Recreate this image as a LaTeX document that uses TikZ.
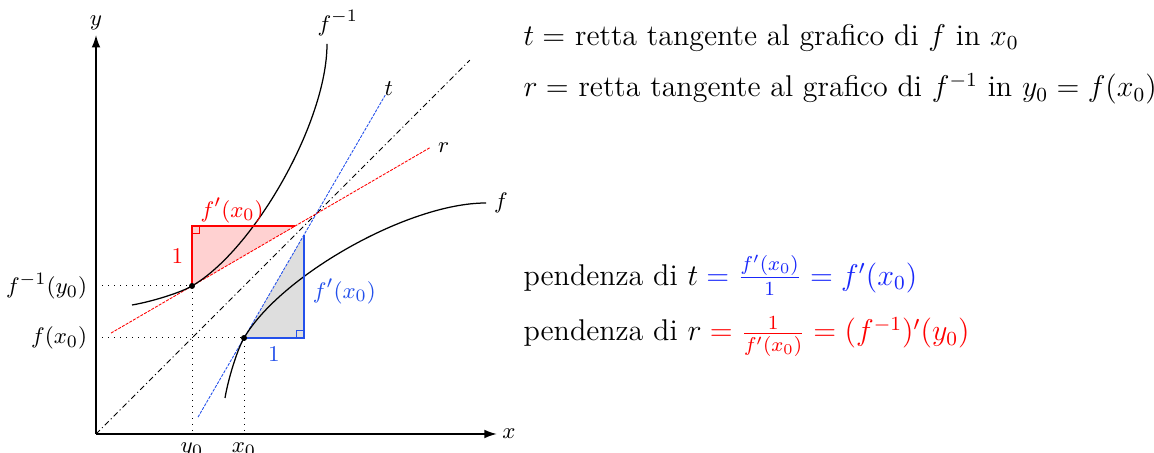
\documentclass[tikz,border=0pt]{standalone}
\usepackage{amsmath}
\usetikzlibrary{arrows.meta}
\definecolor{pblue}{RGB}{35,80,235}
\definecolor{tblue}{RGB}{25,40,250}
\begin{document}
\begin{tikzpicture}[x=24pt,y=24pt,
 axis/.style={line width=0.6pt,-{Latex[length=5pt,width=3.5pt]}},
 curve/.style={line width=0.5pt},
 tline/.style={pblue, line width=0.35pt, dash pattern=on 1.2pt off 0.5pt},
 rline/.style={red, line width=0.35pt, dash pattern=on 1.2pt off 0.5pt},
 diag/.style={line width=0.4pt, dash pattern=on 2.2pt off 1.2pt on 0.4pt off 1.2pt},
 guide/.style={line width=0.4pt, dotted},
 tri/.style={line width=0.9pt},
 rmark/.style={line width=0.4pt},
 dot/.style={circle, fill, inner sep=0pt, minimum size=2.4pt},
 plbl/.style={font=\fontsize{9.5}{11}\selectfont},
 rtext/.style={anchor=base west, inner sep=0pt, font=\large},
 ]
\useasboundingbox (-1.6,-0.3167) rectangle (17.633,7.2333);
\coordinate (O) at (0,0);
\coordinate (P) at (2.467,1.6);
\coordinate (Q) at (1.6,2.467);
\coordinate (Px) at (2.467,0);
\coordinate (Py) at (0,1.6);
\coordinate (Qx) at (1.6,0);
\coordinate (Qy) at (0,2.467);
\coordinate (R1) at (1.6,3.467);
\coordinate (R2) at (3.32,3.467);
\coordinate (B1) at (3.467,1.6);
\coordinate (B2) at (3.467,3.32);
% fills
\fill[red!18] (Q) -- (R1) -- (R2) -- cycle;
\fill[black!13] (P) -- (B1) -- (B2) -- cycle;
% guides
\draw[guide] (Py) -- (P) -- (Px);
\draw[guide] (Qy) -- (Q) -- (Qx);
% axes
\draw[axis] (O) -- (6.68,0) coordinate (xe);
\draw[axis] (O) -- (0,6.65) coordinate (ye);
\node[right, inner sep=2pt] (xl) at (xe) {\small $x$};
\node[above, inner sep=2pt] (yl) at (ye) {\small $y$};
% diagonal
\draw[diag] (O) -- (6.23,6.23) coordinate (de);
% tangent lines
\coordinate (t1) at (1.7,0.281);
\coordinate (t2) at (4.82,5.647);
\coordinate (r1) at (0.25,1.682);
\coordinate (r2) at (5.567,4.773);
\draw[tline] (t1) -- (t2);
\draw[rline] (r1) -- (r2);
\node[right, inner sep=1pt] (tl) at (4.76,5.76) {\small $t$};
\node[right, inner sep=1pt] (rl) at (5.65,4.78) {\small $r$};
% curves
\coordinate (fa) at (2.15,0.6);
\coordinate (fb) at (6.5,3.85);
\coordinate (ga) at (0.6,2.15);
\coordinate (gb) at (3.85,6.5);
\draw[curve] (fa) .. controls (2.2,0.9) and (2.347,1.394) .. (P)
  .. controls (3.067,2.632) and (5.2,3.85) .. (fb);
\draw[curve] (ga) .. controls (0.9,2.2) and (1.394,2.347) .. (Q)
  .. controls (2.632,3.067) and (3.85,5.2) .. (gb);
\node[right, inner sep=3pt, plbl] (fl) at (fb) {$f$};
\node[plbl] (gl) at (4.03,6.85) {$f^{-1}$};
% triangles
\draw[tri, red] (Q) -- (R1) -- (R2);
\draw[rmark, red] (1.6,3.334) -- (1.733,3.334) -- (1.733,3.467);
\draw[tri, pblue] (P) -- (B1) -- (B2);
\draw[rmark, pblue] (3.334,1.6) -- (3.334,1.733) -- (3.467,1.733);
\node[left, red, plbl] (r1l) at (1.6,2.967) {$1$};
\node[red, plbl] (rfl) at (2.27,3.73) {$f'(x_0)$};
\node[below, pblue, plbl] (b1l) at (2.967,1.6) {$1$};
\node[right, pblue, plbl] (bfl) at (3.467,2.38) {$f'(x_0)$};
% dots
\node[dot] (Pd) at (P) {};
\node[dot] (Qd) at (Q) {};
% axis labels
\node[left, plbl] (lfy) at (Qy) {$f^{-1}(y_0)$};
\node[left, plbl] (lfx) at (Py) {$f(x_0)$};
\node[below, plbl] (ly0) at (Qx) {$y_0$};
\node[below, plbl] (lx0) at (Px) {$x_0$};
% right texts
\node[rtext] (T1) at (7.117,6.483) {$t =$ retta tangente al grafico di $f$ in $x_0$};
\node[rtext] (T2) at (7.117,5.617) {$r =$ retta tangente al grafico di $f^{-1}$ in $y_0 = f(x_0)$};
\node[rtext] (T3) at (7.117,2.483) {pendenza di $t \color{tblue} = \frac{f'(x_0)}{1} = f'(x_0)$};
\node[rtext] (T4) at (7.117,1.55) {pendenza di $r \color{red} = \frac{1}{f'(x_0)} = (f^{-1})'(y_0)$};
\end{tikzpicture}
\end{document}
